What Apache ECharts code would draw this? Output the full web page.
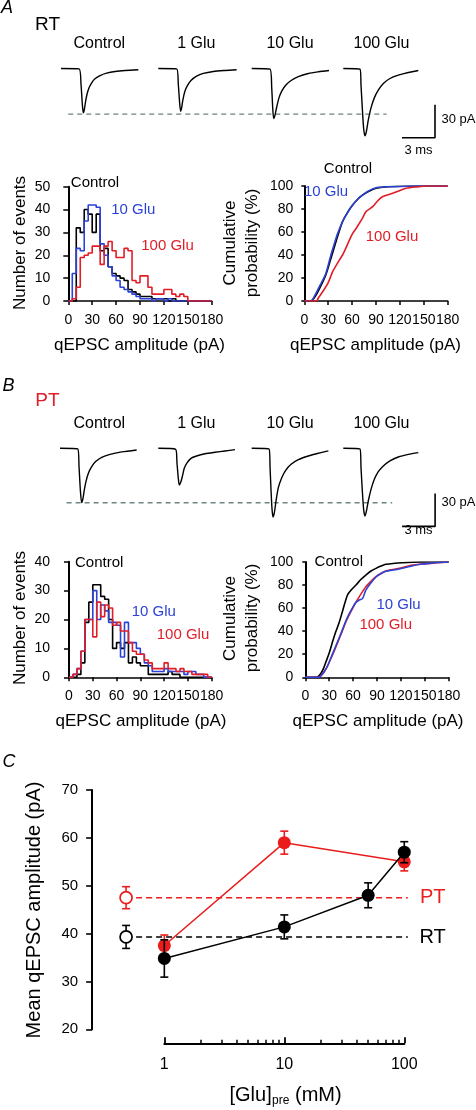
<!DOCTYPE html>
<html><head><meta charset="utf-8">
<script src="https://cdn.jsdelivr.net/npm/echarts@6/dist/echarts.min.js"></script>
<style>html,body{margin:0;padding:0;background:#fff}#c{width:476px;height:1110px}</style>
</head><body><div id="c"></div>
<script>
// ================= DATA =================
// Histograms: counts per 5 pA bin, 0..180 pA
const histBinWidth = 5;
const histA_control = [0,0,32,30,40,38,30,38,22,23, 15,12,11,10,9,5,4,3,2,2, 2,1,1,1,1,0,1,0,0,0, 0,0,0,0,0,0];
const histA_10glu   = [0,12,23,22,35,42,42,41,25,20, 15,11,9,6,5,4,3,2,1,1, 1,0,1,1,0,1,0,0,0,0, 0,0,0,0,0,0];
const histA_100glu  = [0,1,6,19,20,21,24,24,16,24, 26,22,19,19,23,22,9,8,11,11, 6,3,3,3,5,5,3,2,3,2, 0,0,0,0,0,0];
const histB_control = [0,0,1,5,19,26,32,32,28,27, 20,10,12,10,12,5,7,5,4,4, 1,1,1,1,1,2,1,1,0,0, 0,0,0,0,0,0];
const histB_10glu   = [0,1,3,9,20,20,30,20,25,23, 19,19,18,7,19,12,12,10,8,5, 4,2,2,2,3,2,2,2,2,1, 2,2,1,1,0,0];
const histB_100glu  = [0,1,3,9,20,20,14,26,21,25, 24,18,19,16,16,12,9,8,8,6, 5,3,3,3,5,3,3,2,3,2, 2,1,1,1,1,0];

// Cumulative probability: [amplitude pA, %]
const cumA_control = [[0,0],[8,0],[14.6,5],[20,12],[27,22.6],[33,36],[39.8,51.6],[48,69],[55,78],[60.7,83.5],[67,88.5],[73,92],[80,95],[90,98],[111,99.5],[140,100],[180,100]];
const cumA_10glu   = [[0,0],[8,0],[14.6,6.7],[20,14],[27,24],[33,39],[39.8,54.5],[42,59],[48,69],[55,77.5],[60.7,83.5],[67,88.5],[73,92],[80,95.5],[90,98.5],[111,99.4],[140,100],[180,100]];
const cumA_100glu  = [[0,0],[15,0],[18,3],[23,8],[30,16],[35.6,25.5],[40,31],[44,35.6],[48,40],[52,45.8],[56,52],[60.7,58.8],[65,63],[69,67.5],[73,72],[77.4,77.7],[85.8,82],[92,87],[98,90.7],[111,93.6],[120,96],[127.7,98],[144,99.4],[152.8,100],[180,100]];
const cumB_control = [[0,0],[14,0],[19.7,3.5],[23,8],[26,13.6],[30,21],[34.3,31],[38,39],[42.7,48],[47,58],[53,71.4],[58,76],[63.6,80],[70,85],[76,88.7],[82,92],[88.7,94.5],[95,96.5],[101,98],[122,99.4],[147,100],[180,100]];
const cumB_10glu   = [[0,0],[17,0],[20,1.5],[23.9,5],[28,10],[32.2,17],[37,25],[42.7,34.5],[47,42],[51,49],[55,55],[59.4,60.5],[63.5,65],[67.8,67],[72,68.5],[76,75.7],[82,81.5],[88.7,87],[95,90],[101,92],[110,93],[118,94],[127,95.5],[134.8,96.8],[145,98],[155.7,98.8],[165,99.5],[180,100]];
const cumB_100glu  = [[0,0],[17,0],[20,1.5],[23.9,5],[28,10],[32.2,16.5],[37,24],[42.7,33.8],[47,41],[51,48.3],[55,54],[59.4,59.8],[63.5,65],[67.8,70],[72,74.5],[76,78.6],[82,83],[88.7,87.3],[95,90],[101,92.2],[110,93.5],[118,94.5],[127,96],[134.8,97.4],[145,98.2],[155.7,98.8],[180,100]];

// Example qEPSC traces: [time ms, current pA]
const traceRT_control = [[0,0],[1.64,-0.3],[1.82,-14.5],[1.94,-32.7],[2.03,-40.3],[2.12,-37.3],[2.24,-29.7],[2.36,-23.6],[2.55,-17.6],[2.79,-13.0],[3.09,-9.4],[3.55,-6.4],[4.15,-4.2],[4.91,-2.7],[5.82,-1.8],[7.03,-1.2]];
const traceRT_1glu    = [[0,0],[1.67,-0.3],[1.82,-14.5],[1.94,-31.2],[2.03,-38.8],[2.12,-35.8],[2.24,-28.2],[2.42,-20.6],[2.67,-15.2],[2.97,-10.9],[3.48,-7.0],[4.09,-4.5],[5.0,-2.7],[6.06,-1.8],[7.12,-1.2]];
const traceRT_10glu   = [[0,0],[1.67,-0.6],[1.82,-17.6],[1.91,-35.8],[2.0,-45.5],[2.12,-42.4],[2.27,-35.2],[2.48,-26.7],[2.73,-20.6],[3.09,-15.2],[3.58,-10.9],[4.24,-7.3],[5.15,-4.5],[6.06,-3.0],[7.03,-1.8]];
const traceRT_100glu  = [[0,0],[1.52,-0.6],[1.61,-15.2],[1.73,-36.4],[1.85,-54.5],[1.97,-61.2],[2.09,-57.6],[2.27,-47],[2.52,-35.8],[2.82,-26.7],[3.18,-19.7],[3.64,-13.6],[4.24,-9.1],[5.0,-6.1],[5.91,-3.6],[6.82,-1.8]];
const tracePT_control = [[0,0],[1.61,-0.6],[1.73,-16.7],[1.85,-37.9],[1.97,-49.4],[2.09,-45.5],[2.21,-37.9],[2.36,-30.3],[2.58,-22.7],[2.88,-16.7],[3.24,-12.1],[3.79,-8.2],[4.55,-5.5],[5.61,-3.3],[6.97,-1.5]];
const tracePT_1glu    = [[0,0],[1.58,-0.9],[1.70,-13.6],[1.82,-27.3],[1.91,-33.3],[2.03,-31.2],[2.18,-25.8],[2.36,-18.2],[2.61,-13.3],[2.97,-9.1],[3.48,-7.0],[4.24,-5.0],[5.15,-3.6],[6.06,-2.4],[6.97,-1.2]];
const tracePT_10glu   = [[0,0],[1.58,-0.6],[1.67,-17.6],[1.76,-38.8],[1.85,-55.5],[1.94,-62.4],[2.06,-58.5],[2.21,-47.9],[2.42,-35.8],[2.73,-26.7],[3.09,-20],[3.58,-14.5],[4.24,-10.3],[5.15,-7],[6.06,-4.5],[6.97,-2.4]];
const tracePT_100glu  = [[0,0],[1.52,-0.6],[1.61,-17.6],[1.73,-38.8],[1.85,-55.5],[1.97,-61.5],[2.09,-57.6],[2.27,-47.9],[2.52,-37.3],[2.82,-28.2],[3.18,-21.2],[3.64,-16.1],[4.24,-11.5],[5.0,-7.9],[5.91,-5.5],[6.82,-3.9]];
const traceLabels = ['Control','1 Glu','10 Glu','100 Glu'];
const peakRefA = -41.4, peakRefB = -49.5;      // dashed reference (control peak), pA
const scaleBar = {ms:3, pA:30};

// Panel C: mean qEPSC amplitude (pA) vs [Glu]pre (mM)
const glu_PT = [1,10,100];
const mean_PT = [37.5,59.0,55.0];
const sem_PT  = [2.2,2.4,1.9];
const glu_RT = [1,10,50,100];
const mean_RT = [34.8,41.4,48.0,57.0];
const sem_RT  = [3.9,2.5,2.6,2.2];
const control_PT = {mean:47.5, sem:2.3};
const control_RT = {mean:39.3, sem:2.4};
const controlPos = 0.48, dashEnd = 107;
const cTicksMajor = [1,10,100];
const cTicksMinor = [2,3,4,5,6,7,8,9,20,30,40,50,60,70,80,90];

// ================= CHART =================
const FONT = '"Liberation Sans", Arial, Helvetica, sans-serif';
const BLACK='#000000', BLUE='#2c42d6', RED='#e11d27', GRAY='#6d8482', CRED='#ea1c1c';
const option = {animation:false, backgroundColor:'#ffffff', grid:[], xAxis:[], yAxis:[], series:[], graphic:[]};
function addGrid(b){ option.grid.push(Object.assign({outerBoundsMode:'none', containLabel:false, show:false}, b)); return option.grid.length-1; }
function addX(a){ option.xAxis.push(a); return option.xAxis.length-1; }
function addY(a){ option.yAxis.push(a); return option.yAxis.length-1; }
function hidden(g,min,max,type){ return {type:type||'value', gridIndex:g, min, max, show:false}; }

// ---- traces ----
const PX_MS = 11, PX_PA = 1.1, T_MAX = 7, I_MIN = -70, I_MAX = 5;
function traceRow(baseY, lefts, traces, refLevel, dashFrom, dashTo, barT){
  traces.forEach((tr,k)=>{
    const g = addGrid({left:lefts[k], top: baseY - I_MAX*PX_PA, width:T_MAX*PX_MS, height:(I_MAX-I_MIN)*PX_PA});
    const xi = addX(hidden(g,0,T_MAX)), yi = addY(hidden(g,I_MIN,I_MAX));
    option.series.push({type:'line', xAxisIndex:xi, yAxisIndex:yi, data:tr, showSymbol:false, smooth:0.25, clip:false,
      lineStyle:{color:BLACK, width:1.4}});
  });
  const W = 35;
  const g = addGrid({left:lefts[0], top: baseY - I_MAX*PX_PA, width:W*PX_MS, height:(I_MAX-I_MIN)*PX_PA});
  const xi = addX(hidden(g,0,W)), yi = addY(hidden(g,I_MIN,I_MAX));
  option.series.push({type:'line', xAxisIndex:xi, yAxisIndex:yi, data:[[dashFrom,refLevel],[dashTo,refLevel]], showSymbol:false, z:1,
    lineStyle:{color:GRAY, width:1.3, type:[5,4]}});
  const bottom = refLevel - 21.5;
  option.series.push({type:'line', xAxisIndex:xi, yAxisIndex:yi, showSymbol:false, clip:false,
    data:[[barT-scaleBar.ms,bottom],[barT,bottom],[barT,bottom+scaleBar.pA]], lineStyle:{color:BLACK, width:1.6}});
}
traceRow(68.5, [61,158.3,251.7,343.3], [traceRT_control,traceRT_1glu,traceRT_10glu,traceRT_100glu], peakRefA, 0.66, 29.6, 34);
traceRow(448.3, [60,158.3,251.7,343.3], [tracePT_control,tracePT_1glu,tracePT_10glu,tracePT_100glu], peakRefB, 0.6, 30.2, 34.1);

// ---- histogram & cumulative panels ----
function stepPts(counts){
  const pts = counts.map((c,i)=>[i*histBinWidth, c]);
  const end = counts.length*histBinWidth;
  pts.push([end, counts[counts.length-1]]); pts.push([end, 0]);
  return pts;
}
function panel(box, ymax, yint, yOffset, labelMargin, tickLen, seriesList, step){
  const g = addGrid(box);
  const xi = addX({type:'value', gridIndex:g, min:0, max:180, interval:30,
    axisLine:{show:true, onZero:false, lineStyle:{color:BLACK, width:1.5}},
    axisTick:{show:true, length:4, lineStyle:{color:BLACK, width:1.5}},
    axisLabel:{show:true, fontSize:14, color:BLACK, margin:12, fontFamily:FONT, showMinLabel:true, showMaxLabel:true, hideOverlap:false},
    splitLine:{show:false}});
  const yi = addY({type:'value', gridIndex:g, min:0, max:ymax, interval:yint, offset:yOffset,
    axisLine:{show:true, lineStyle:{color:BLACK, width:2}},
    axisTick:{show:true, length:tickLen, lineStyle:{color:BLACK, width:1.5}},
    axisLabel:{show:true, fontSize:14, color:BLACK, margin:labelMargin, fontFamily:FONT},
    splitLine:{show:false}});
  seriesList.forEach(s=>{
    option.series.push({type:'line', xAxisIndex:xi, yAxisIndex:yi, data: step ? stepPts(s.d) : s.d,
      step: step ? 'end' : false, smooth: step ? false : 0.3, showSymbol:false,
      lineStyle:{color:s.c, width:1.6}});
  });
}
panel({left:68.3, top:186.7, width:143.4, height:114.3}, 50, 10, 7, 11, 5,
  [{d:histA_control,c:BLACK},{d:histA_10glu,c:BLUE},{d:histA_100glu,c:RED}], true);
panel({left:304.3, top:186, width:143.4, height:115}, 100, 20, 6, 5, 3,
  [{d:cumA_control,c:BLACK},{d:cumA_10glu,c:BLUE},{d:cumA_100glu,c:RED}], false);
panel({left:69, top:561.7, width:142.7, height:115.6}, 40, 10, 7, 12, 5,
  [{d:histB_control,c:BLACK},{d:histB_10glu,c:BLUE},{d:histB_100glu,c:RED}], true);
panel({left:305.3, top:562, width:143.4, height:115.3}, 100, 20, 7, 5, 3,
  [{d:cumB_control,c:BLACK},{d:cumB_100glu,c:RED},{d:cumB_10glu,c:BLUE}], false);

// ---- panel C ----
const gC = addGrid({left:92.1, top:790, width:327.8, height:239.3});
const xC = addX({type:'log', gridIndex:gC, min:0.25, max:135, show:false});
const yC = addY({type:'value', gridIndex:gC, min:20, max:70, interval:10,
  axisLine:{show:true, lineStyle:{color:BLACK, width:2}},
  axisTick:{show:true, length:6, lineStyle:{color:BLACK, width:1.6}},
  axisLabel:{show:true, fontSize:15, color:BLACK, margin:14, fontFamily:FONT},
  splitLine:{show:false}});
const gC2 = addGrid({left:164.3, top:1000, width:240, height:43.3});
addY(hidden(gC2,0,1));
addX({type:'log', gridIndex:gC2, min:1, max:100, position:'bottom',
  axisLine:{show:true, lineStyle:{color:BLACK, width:2}},
  axisTick:{show:true, inside:true, length:3.5, lineStyle:{color:BLACK, width:1.5}, customValues:cTicksMinor},
  axisLabel:{show:false}, splitLine:{show:false}, minorTick:{show:false}});
addX({type:'log', gridIndex:gC2, min:1, max:100, position:'bottom',
  axisLine:{show:false},
  axisTick:{show:true, inside:true, length:6, lineStyle:{color:BLACK, width:1.8}, customValues:cTicksMajor},
  axisLabel:{show:true, fontSize:16, color:BLACK, margin:13, fontFamily:FONT, customValues:cTicksMajor},
  splitLine:{show:false}});

function errBars(xs, means, sems, color, z){
  return {type:'custom', xAxisIndex:xC, yAxisIndex:yC, z, clip:false,
    data: xs.map((x,i)=>[x, means[i]-sems[i], means[i]+sems[i]]),
    encode:{x:0, y:[1,2]},
    renderItem:(params, api)=>{
      const p1 = api.coord([api.value(0), api.value(1)]), p2 = api.coord([api.value(0), api.value(2)]);
      const w = 4, st = {stroke:color, lineWidth:1.6};
      return {type:'group', children:[
        {type:'line', shape:{x1:p1[0],y1:p1[1],x2:p2[0],y2:p2[1]}, style:st},
        {type:'line', shape:{x1:p1[0]-w,y1:p1[1],x2:p1[0]+w,y2:p1[1]}, style:st},
        {type:'line', shape:{x1:p2[0]-w,y1:p2[1],x2:p2[0]+w,y2:p2[1]}, style:st}]};
    }};
}
function groupC(xs, means, sems, ctrl, color, zb){
  option.series.push({type:'line', xAxisIndex:xC, yAxisIndex:yC, z:zb, showSymbol:false, clip:false,
    data:[[controlPos, ctrl.mean],[dashEnd, ctrl.mean]], lineStyle:{color, width:1.6, type:[6,4]}});
  option.series.push(errBars([controlPos].concat(xs), [ctrl.mean].concat(means), [ctrl.sem].concat(sems), color, zb+1));
  option.series.push({type:'line', xAxisIndex:xC, yAxisIndex:yC, z:zb+2, clip:false,
    data: xs.map((x,i)=>[x, means[i]]), symbol:'circle', symbolSize:13, showSymbol:true,
    itemStyle:{color, opacity:1}, lineStyle:{color, width:1.5}});
  option.series.push({type:'scatter', xAxisIndex:xC, yAxisIndex:yC, z:zb+2, clip:false,
    data:[[controlPos, ctrl.mean]], symbol:'circle', symbolSize:12,
    itemStyle:{color:'#ffffff', borderColor:color, borderWidth:1.7, opacity:1}});
}
groupC(glu_PT, mean_PT, sem_PT, control_PT, CRED, 2);
groupC(glu_RT, mean_RT, sem_RT, control_RT, BLACK, 6);

// ---- text ----
function T(text, x, y, o){
  o = o || {};
  const align = o.align || 'center';
  return {type:'text', x, y, rotation:o.rot||0, z:100, silent:true,
    style:{text, fill:o.color||BLACK, font:(o.italic?'italic ':'')+(o.size||14)+'px '+FONT,
      align, textAlign:align, verticalAlign:'middle', textVerticalAlign:'middle'}};
}
const R90 = Math.PI/2;
const G = option.graphic;
G.push(T('A', 1, 8, {italic:true, size:18, align:'left'}));
G.push(T('RT', 47.5, 25, {size:19}));
G.push(T('B', 2.5, 386, {italic:true, size:18, align:'left'}));
G.push(T('PT', 47.5, 401, {size:19, color:RED}));
G.push(T('C', 2.5, 762, {italic:true, size:18, align:'left'}));
[99.3,196.3,290,381.5].forEach((x,i)=>{ G.push(T(traceLabels[i], x, 43.3, {size:16})); G.push(T(traceLabels[i], x, 423.3, {size:16})); });
G.push(T('30 pA', 441.5, 119.3, {size:13, align:'left'}));
G.push(T('3 ms', 418.5, 150.5, {size:13}));
G.push(T('30 pA', 441.5, 502.7, {size:13, align:'left'}));
G.push(T('3 ms', 418.5, 530, {size:13}));
// axis titles
G.push(T('Number of events', 20, 243, {size:17, rot:R90}));
G.push(T('Number of events', 20, 618, {size:17, rot:R90}));
G.push(T('Cumulative', 230.5, 243, {size:17, rot:R90}));
G.push(T('probability (%)', 252.5, 243, {size:17, rot:R90}));
G.push(T('Cumulative', 230.5, 618.5, {size:17, rot:R90}));
G.push(T('probability (%)', 252.5, 618, {size:17, rot:R90}));
G.push(T('qEPSC amplitude (pA)', 139.5, 345, {size:17}));
G.push(T('qEPSC amplitude (pA)', 375.5, 345, {size:17}));
G.push(T('qEPSC amplitude (pA)', 141, 721.7, {size:17}));
G.push(T('qEPSC amplitude (pA)', 378, 721.7, {size:17}));
// series labels in histograms / cumulatives
G.push(T('Control', 95, 183.3, {size:15}));
G.push(T('10 Glu', 133.3, 210, {size:15, color:BLUE}));
G.push(T('100 Glu', 167.5, 245.8, {size:15, color:RED}));
G.push(T('Control', 348, 169, {size:15}));
G.push(T('10 Glu', 326, 192, {size:15, color:BLUE}));
G.push(T('100 Glu', 392, 237, {size:15, color:RED}));
G.push(T('Control', 99.2, 562.5, {size:15}));
G.push(T('10 Glu', 153.8, 612, {size:15, color:BLUE}));
G.push(T('100 Glu', 183, 634.7, {size:15, color:RED}));
G.push(T('Control', 338.8, 561.7, {size:15}));
G.push(T('10 Glu', 398.5, 605.3, {size:15, color:BLUE}));
G.push(T('100 Glu', 385.7, 625.3, {size:15, color:RED}));
// panel C
G.push(T('Mean qEPSC amplitude (pA)', 34, 910, {size:20, rot:R90}));
G.push(T('[Glu]', 229.5, 1095, {size:20, align:'left'}));
G.push(T('pre', 272, 1101, {size:12, align:'left'}));
G.push(T('(mM)', 295, 1095, {size:20, align:'left'}));
G.push(T('PT', 420, 897, {size:20, color:CRED, align:'left'}));
G.push(T('RT', 419.5, 937, {size:20, align:'left'}));

const chart = echarts.init(document.getElementById('c'), null, {renderer:'canvas', width:476, height:1110});
chart.setOption(option);
</script></body></html>
